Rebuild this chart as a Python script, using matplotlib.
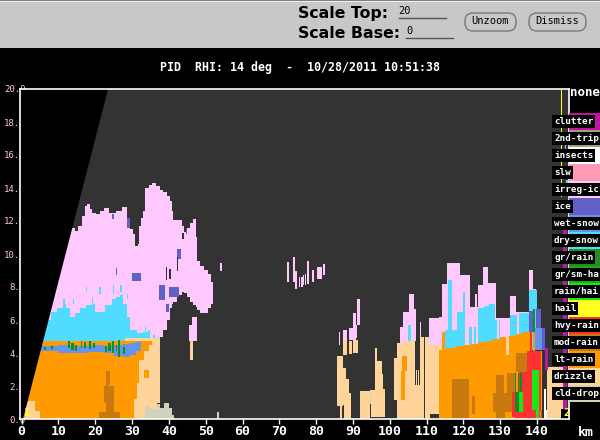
#!/usr/bin/env python3
import matplotlib
matplotlib.use("Agg")
import matplotlib.pyplot as plt
import numpy as np
from matplotlib.patches import FancyBboxPatch, Rectangle

# colores de cada clase PID
PLUM = "#ffc8ff"
CYAN = "#50dcff"
CORN = "#6495ed"
SLATE = "#6060c8"
DGREEN = "#0f8f1e"
BGREEN = "#19e619"
RED = "#ff3030"
BROWN = "#c87a10"
ORANGE = "#ff9a00"
TAN = "#ffd49a"
BEIGE = "#d2d2bc"
MAGENTA = "#b81c9c"
YELLOW = "#ffff20"
DARK = "#333333"

# los nombres largos salen cortados por el borde de la ventana en el original
class_names = ["clutter", "2nd-trip", "insects", "slw", "irreg-ic", "ice", "wet-snow", "dry-snow",
               "gr/rain", "gr/sm-ha", "rain/hai", "hail", "hvy-rain", "mod-rain", "lt-rain",
               "drizzle", "cld-drop"]
class_colors = ["#c0149c", "#a0a080", "#ffffff", "#ff99b4", PLUM, SLATE, CORN, CYAN,
                "#1f8f1f", "#20a820", BGREEN, YELLOW, RED, BROWN, ORANGE, TAN, BEIGE]

xticks = list(range(0, 150, 10))
yticks = list(range(0, 21, 2))

# limite del barrido (km, km)
cone_x = [0.2, 23.3]
cone_h = [0.0, 20.0]

# tormenta izquierda: columnas (bordes en km, tope y base en km)
pink_edges = [4, 13.6, 14.5, 15.4, 16.5, 17.2, 17.7, 18.5, 19, 20.2, 21.3, 22.4, 23.8, 25.5, 27.2, 28.5, 29.4,
              30.2, 30.8, 31.5, 32, 32.3, 33, 33.5, 34.5, 35.3, 36.5, 37.6, 38.5, 39.4, 40.2, 40.8, 41, 42.3,
              43.5, 44.1, 45, 45.7, 46.5, 47.3, 47.6, 48.5, 49.5, 50.5, 51.4, 52.1]
pink_tops = [11.65, 11.55, 11.4, 11.7, 12.3, 12.9, 13.0, 12.7, 12.5, 12.4, 12.6, 12.8, 12.5, 12.6, 12.85, 12.1,
             11.5, 11.2, 10.5, 10.6, 11.7, 12.2, 12.6, 14.0, 14.2, 14.28, 14.1, 13.9, 13.75, 13.5, 13.2, 12.6,
             12.05, 12.05, 11.7, 11.35, 11.6, 11.85, 12.1, 11.0, 9.6, 9.3, 9.05, 8.8, 8.3]
pink_bases = [4] * 26 + [4.8, 5.0, 5.4, 6.0, 6.7, 7.0, 7.1, 7.5, 7.7, 7.65, 7.4, 7.1, 6.9, 6.8, 6.6, 6.45, 6.4, 6.7, 7.0]

cyan_edges = [5, 8, 9.5, 11.3, 12, 13.1, 14.5, 15.8, 17.5, 19, 20, 20.8, 22.6, 24.4, 25.5, 26.7, 27.6, 28.5, 29.4,
              31.2, 33, 34.4, 34.9]
cyan_tops = [6.0, 6.5, 6.75, 7.0, 6.7, 6.2, 6.4, 6.7, 6.9, 7.0, 6.5, 6.5, 6.9, 7.3, 7.4, 7.5, 7.0, 6.2, 5.4, 5.2,
             5.3, 5.4]
cyan_spikes = [(17.5, 17.8, 7.7, 8.0), (21, 21.5, 7.6, 8), (24.8, 25.1, 7.6, 8.1), (26.8, 27.2, 7.7, 8.1),
               (19, 19.5, 7, 7.4), (11.2, 11.7, 7, 7.3), (14, 14.3, 7, 7.3), (28.5, 28.8, 7.3, 7.6),
               (33.4, 33.7, 5.3, 5.6), (35.8, 36.2, 4.6, 5.1), (37, 37.3, 4.6, 5)]

orange_edges = [0, 30.5, 31.4, 31.8, 33.2, 34.5, 35.5]
orange_tops = [4.75, 4.75, 4.75, 4.75, 4.75, 4.75]
orange_bases = [0, 1.2, 2.2, 3.6, 4.1, 4.5]
orange_patch = [(33.2, 34.5, 2.5, 3)]

band_edges = [5.2, 10, 14, 18, 22, 25, 27.5, 29.5, 31, 32.3]
band_tops = [4.4, 4.5, 4.45, 4.5, 4.45, 4.5, 4.55, 4.6, 4.65]
band_bases = [4.1, 4.0, 4.0, 4.05, 4.0, 3.8, 3.75, 3.9, 4.1]

# el resto como bloques (km ini, km fin, base, tope)
tan_left = [(28, 36.8, 0, 4.9), (36.8, 37.6, 1, 4.9), (45.7, 46.6, 3.6, 4.7)]
tan_corner = [(0.9, 3.6, 0, 1.1), (3.6, 5, 0, 0.5)]
beige_left = [(33.6, 34.5, 0, 0.8), (34.5, 36.8, 0, 0.6), (36.8, 37.7, 0, 0.9), (37.7, 38.6, 0, 0.65),
              (38.6, 40, 0, 1.0), (40, 40.9, 0, 0.65), (40.9, 41.4, 0, 0.25), (53, 53.5, 0, 0.4),
              (37.2, 37.6, 3.9, 4.3)]
brown_left = [(21, 26.8, 0, 0.45), (22.8, 25, 0.45, 1.0), (22.3, 25, 1, 2), (23, 23.8, 2, 2.2), (23, 24, 2.2, 2.9)]
plum_extra = [(45.5, 46.3, 4.7, 5.7), (46.3, 47.7, 4.7, 6.2), (54, 54.5, 9, 9.45)]
slate_left = [(37.3, 39, 7.2, 8.1), (40, 42.7, 7.4, 8), (39.3, 40, 6.5, 7), (30, 32.3, 8.35, 8.85),
              (25.5, 25.9, 8.75, 9.15), (24.6, 25.2, 12.1, 12.4), (28.6, 29.3, 11.6, 12.2),
              (44.6, 45, 11.2, 11.5), (42.3, 43.2, 9.7, 10.3)]
gaps_left = [(39.1, 39.5, 8.4, 9.2), (40, 40.5, 8.5, 9.1), (43.6, 44, 10.9, 11.3), (42.1, 42.4, 9.0, 9.8)]
green_left = [(6, 6.5, 4.2, 4.35), (8, 8.5, 4.25, 4.4), (12.7, 13.2, 4.3, 4.75), (13.5, 14.2, 4.2, 4.6),
              (14.5, 15, 4.15, 4.5), (16, 16.5, 4.3, 4.7), (17, 17.6, 4.3, 4.65), (18.2, 18.8, 4.25, 4.7),
              (19.5, 19.9, 4.3, 4.6), (22.7, 23.3, 4.05, 4.45), (23.5, 24.2, 4.1, 4.6), (24.5, 25.1, 4, 4.75),
              (25.5, 26, 4.15, 4.5), (26.3, 26.8, 3.75, 4.8), (27.5, 28, 3.95, 4.35)]

# ecos sueltos en el centro
plum_mid = [(72.2, 72.6, 8.3, 9.5), (73.8, 74.3, 8.3, 9.8), (74.3, 74.9, 7.9, 9.0), (75.3, 75.6, 8.0, 8.6),
            (75.9, 76.4, 8.0, 8.6), (76.5, 76.7, 8.1, 8.7), (77, 77.2, 8.1, 8.8), (77.4, 78, 8.2, 9.6),
            (78.9, 79.4, 8.3, 9.0), (80.2, 81.5, 8.5, 9.2), (81.8, 82.4, 8.7, 9.4),
            (86.3, 86.6, 4.5, 5.25), (87.4, 88.3, 4.7, 5.4), (88.95, 89.9, 4.8, 5.5), (89.9, 90.85, 4.8, 6.4),
            (90.85, 91.2, 4.9, 5.7), (91.2, 91.9, 5.7, 7.25),
            (102.7, 103.7, 4.5, 5.6), (103.7, 105.2, 4.5, 6.5), (105.2, 106.6, 4.5, 7.6), (106.6, 107, 4.7, 6.65),
            (108.1, 108.5, 4.9, 5.85)]
tan_mid = [(85.8, 87.2, 0.8, 3.8), (87.2, 88.1, 0.85, 3.1), (88.1, 88.95, 0.85, 2.4), (88.95, 89.4, 0, 1.6),
           (87.6, 88.95, 0, 0.85), (86.5, 86.9, 0, 0.8), (87.4, 88.5, 3.9, 4.7), (88.9, 89.7, 3.95, 4.75),
           (90.1, 91.3, 4, 4.8), (91.9, 94.5, 0, 1.7), (94.8, 96, 0.1, 1.75), (96, 96.6, 0.1, 4.3),
           (96.6, 97.8, 0.1, 3.5), (97.8, 98.1, 0.1, 2.7), (98.1, 98.7, 0.1, 1.8),
           (101.1, 102, 1.15, 3.7), (102, 104, 0, 4.6), (104, 105.5, 0, 4.75), (105.5, 106.8, 0, 4.8),
           (106.8, 108.2, 0, 2.05), (107.1, 107.4, 2.05, 3), (107.7, 107.9, 2.05, 3), (108.2, 109.2, 0, 4.95),
           (109.6, 110.8, 0, 5.0), (110.8, 113.4, 0.3, 5.1), (113.4, 114.3, 0.3, 5.25)]
beige_mid = [(85.6, 85.8, 0.8, 3), (91.8, 92, 0.7, 1.7), (94.7, 94.9, 0.9, 1.75)]
orange_mid = [(103.2, 104.8, 2.9, 3.8), (103.1, 104.2, 1.15, 2.9)]
cyan_mid = [(104.9, 105.9, 4.7, 5.7)]

# tormenta derecha
pink_r_edges = [110.6, 113.3, 114.1, 115.5, 119.1, 121.8, 124, 125.4, 126.6, 129, 130.5, 132.7, 134.3, 137.8, 139, 139.7]
pink_r_tops = [6.1, 6.2, 8.2, 9.45, 8.7, 6.8, 8.12, 9.2, 8.22, 6.1, 6.1, 7.47, 6.5, 9.03, 7.9]
plum_spike = [(123.2, 123.8, 5, 7.6)]
cyan_right = [(115, 115.9, 4.2, 5.4), (115.9, 116.8, 4.2, 8.4), (116.8, 118.2, 4.2, 5.4), (118.2, 119.8, 4.2, 6.5),
              (119.8, 120.4, 4.2, 7.7), (121.4, 122.4, 4.2, 5.6), (122.9, 123.4, 4.2, 5.6), (123.9, 125.5, 4.2, 6.7),
              (125.5, 127, 4.2, 6.85), (127, 128.6, 4.2, 7.0), (128.6, 129.2, 4.2, 6.0), (129.6, 129.9, 4.2, 6.0),
              (132.7, 134.7, 4.2, 6.3), (135, 137.7, 4.2, 6.45), (137.7, 139.9, 4.2, 7.8)]
orange_r_edges = [113.3, 115.2, 118, 120, 122, 124, 126, 128, 130, 132, 134, 136, 138.2]
orange_r_tops = [4.2, 4.3, 4.4, 4.5, 4.55, 4.65, 4.75, 4.85, 4.95, 5.05, 5.15, 5.25]
orange_strip = [(114.3, 115, 4, 5.3), (139, 139.5, 4.1, 5.25)]
tan_strip = [(131.6, 132.5, 3.9, 5.03)]
brown_right = [(116.8, 121.6, 0, 2.4), (122.3, 123.2, 0.28, 1.4), (129, 131, 0.45, 2.67), (128.1, 131.8, 0.4, 1.56),
               (128.9, 131.3, 0, 0.4), (131.8, 134, 0.45, 2.77), (134.3, 137.4, 2.87, 4.0)]
red_right = [(137.4, 141.3, 0, 4.1), (133.3, 134, 0.1, 1.66), (133.8, 137.4, 0, 0.45), (135.2, 137.4, 0.45, 2.87),
             (138.1, 138.7, 4.15, 5.35)]
green_bright = [(135.2, 136.3, 0.45, 1.66), (138.6, 140.6, 0.55, 2.97), (139.7, 140.6, 0, 0.55)]
green_dark = [(134, 135.2, 0.45, 1.66), (134, 134.3, 1.66, 2.8), (134.9, 135.1, 1.66, 2.8), (135.5, 135.8, 1.66, 2.8),
              (139, 139.5, 5.3, 6.65)]
corn_right = [(139.5, 141.3, 4.2, 5.5)]
slate_right = [(137.9, 139, 5.3, 6.55), (139.7, 141, 5.5, 6.65), (141.3, 142.2, 4.2, 5.5)]
orange_thin = [(141.1, 141.5, 0.55, 4.1), (140.8, 141.1, 0, 0.5)]
magenta_right = [(142.2, 142.9, 3, 4.3), (147.2, 148.1, 0.2, 12.2)]
tan_right = [(142.7, 147.2, 0, 3.15)]
white_right = [(141.9, 142.4, 0, 1.8), (142.4, 142.8, 0, 0.55)]
black_corner = [(146.5, 148.7, 0, 0.6)]
yellow_right = [(146.4, 146.7, 13.45, 20), (147.6, 147.9, 16.0, 17.2)]
cyan_thin = [(147.5, 148, 15.9, 17.4), (148, 148.4, 13.5, 14.5)]


def columnas(ax, edges, tops, bases, color):
    edges = np.array(edges)
    tops = np.array(tops, dtype=float)
    bases = np.array(bases, dtype=float)
    ax.bar(edges[:-1], tops - bases, np.diff(edges), bottom=bases, align="edge",
           color=color, linewidth=0, antialiased=False)


def bloques(ax, rows, color):
    rows = np.array(rows, dtype=float)
    ax.bar(rows[:, 0], rows[:, 3] - rows[:, 2], rows[:, 1] - rows[:, 0], bottom=rows[:, 2], align="edge",
           color=color, linewidth=0, antialiased=False)


def grafico():
    fig = plt.figure(figsize=(6, 4.4), dpi=100, facecolor="black")
    # axes en pixeles de la ventana original
    ax = fig.add_axes([20 / 600, 1 - 419 / 440, 549 / 600, 330 / 440], facecolor=DARK)
    ax.set_xlim(-0.46, 148.7)
    ax.set_ylim(0, 20)

    # tormenta izquierda, de atras hacia adelante
    columnas(ax, pink_edges, pink_tops, pink_bases, PLUM)
    bloques(ax, plum_extra, PLUM)
    bloques(ax, slate_left, SLATE)
    bloques(ax, gaps_left, DARK)
    columnas(ax, cyan_edges, cyan_tops, 4.5, CYAN)
    bloques(ax, cyan_spikes, CYAN)
    bloques(ax, tan_left, TAN)
    columnas(ax, orange_edges, orange_tops, orange_bases, ORANGE)
    bloques(ax, orange_patch, ORANGE)
    bloques(ax, beige_left, BEIGE)
    columnas(ax, band_edges, band_tops, band_bases, CORN)
    bloques(ax, green_left, DGREEN)
    bloques(ax, brown_left, BROWN)
    bloques(ax, tan_corner, TAN)

    # centro
    bloques(ax, plum_mid, PLUM)
    bloques(ax, cyan_mid, CYAN)
    bloques(ax, tan_mid, TAN)
    bloques(ax, beige_mid, BEIGE)
    bloques(ax, orange_mid, ORANGE)

    # tormenta derecha
    columnas(ax, pink_r_edges, pink_r_tops, 4.5, PLUM)
    bloques(ax, plum_spike, PLUM)
    bloques(ax, cyan_right, CYAN)
    columnas(ax, orange_r_edges, orange_r_tops, 0, ORANGE)
    bloques(ax, orange_strip, ORANGE)
    bloques(ax, tan_strip, TAN)
    bloques(ax, brown_right, BROWN)
    bloques(ax, red_right, RED)
    bloques(ax, green_bright, BGREEN)
    bloques(ax, green_dark, DGREEN)
    bloques(ax, corn_right, CORN)
    bloques(ax, slate_right, SLATE)
    bloques(ax, orange_thin, ORANGE)
    bloques(ax, tan_right, TAN)
    bloques(ax, magenta_right, MAGENTA)
    bloques(ax, white_right, "white")
    bloques(ax, black_corner, "black")
    bloques(ax, yellow_right, YELLOW)
    bloques(ax, cyan_thin, CYAN)

    # zona fuera del barrido
    ax.fill_betweenx(cone_h, -1, cone_x, color="black", linewidth=0, zorder=3)

    ax.text(0.7, 0.35, "1", color=YELLOW, fontsize=8, family="DejaVu Sans Mono", weight="bold", va="center", zorder=4)
    ax.text(147.1, 0.35, "2", color=YELLOW, fontsize=8, family="DejaVu Sans Mono", weight="bold", va="center", zorder=4)

    for s in ax.spines.values():
        s.set_color("white")
        s.set_linewidth(1.2)
        s.set_zorder(5)
    ax.set_xticks(xticks)
    ax.set_xticklabels([str(t) for t in xticks], color="white", fontsize=9.5,
                       family="DejaVu Sans Mono", weight="bold")
    ax.tick_params(axis="x", colors="white", length=3.5, width=1, pad=1)
    ax.set_yticks(yticks)
    ax.set_yticklabels(["%.1f" % t for t in yticks], color="#ffc8c8", fontsize=6.5,
                       family="DejaVu Sans Mono")
    ax.tick_params(axis="y", length=0, pad=-4)

    # barra de clases
    cax = fig.add_axes([569 / 600, 1 - 402 / 440, 31 / 600, 289 / 440], facecolor="black")
    cax.barh(range(len(class_names)), 1, height=1, color=class_colors, linewidth=0, antialiased=False)
    cax.set_xlim(0, 1)
    cax.set_ylim(len(class_names) - 0.5, -0.5)
    cax.axis("off")
    for i, name in enumerate(class_names):
        cax.text(-0.48, i, name, color="white", fontsize=6.7, family="DejaVu Sans Mono", weight="bold",
                 va="center", ha="left", clip_on=False, zorder=5,
                 bbox=dict(facecolor="black", edgecolor="none", pad=1.2))

    # panel superior y textos, en pixeles
    over = fig.add_axes([0, 0, 1, 1], facecolor="none")
    over.set_xlim(0, 600)
    over.set_ylim(440, 0)
    over.axis("off")
    over.add_patch(Rectangle((0, 0), 600, 48, facecolor="#c8c8c8", edgecolor="none"))
    over.add_patch(Rectangle((0, 0), 600, 1, facecolor="#808080", edgecolor="none"))
    over.add_patch(Rectangle((0, 1), 600, 1, facecolor="#f0f0f0", edgecolor="none"))
    over.text(298, 13.5, "Scale Top:", fontsize=11.3, weight="bold", color="black", va="center")
    over.text(298, 33.5, "Scale Base:", fontsize=11.3, weight="bold", color="black", va="center")
    over.text(398, 11, "20", fontsize=7.5, family="DejaVu Sans Mono", color="black", va="center")
    over.text(406, 30.5, "0", fontsize=7.5, family="DejaVu Sans Mono", color="black", va="center")
    over.plot([399, 446], [18, 18], color="#555555", lw=1)
    over.plot([406, 453], [38, 38], color="#555555", lw=1)
    for x0, x1, lab in [(465, 516, "Unzoom"), (529, 586, "Dismiss")]:
        over.add_patch(FancyBboxPatch((x0, 13), x1 - x0, 18, boxstyle="round,pad=0,rounding_size=8",
                                      facecolor="#c8c8c8", edgecolor="#777777", lw=1))
        over.text((x0 + x1) / 2, 21.5, lab, fontsize=7.5, family="DejaVu Sans Mono", color="black",
                  ha="center", va="center")
    over.text(299.5, 68, "PID  RHI: 14 deg  -  10/28/2011 10:51:38", color="white", fontsize=8.4,
              family="DejaVu Sans Mono", weight="bold", ha="center", va="center")
    over.text(570, 92, "none", color="white", fontsize=9, family="DejaVu Sans Mono", weight="bold", va="center")
    over.text(578, 432, "km", color="white", fontsize=9.5, family="DejaVu Sans Mono", weight="bold", va="center")

    fig.savefig("out.png", dpi=100, facecolor="black")


if __name__ == "__main__":
    grafico()
